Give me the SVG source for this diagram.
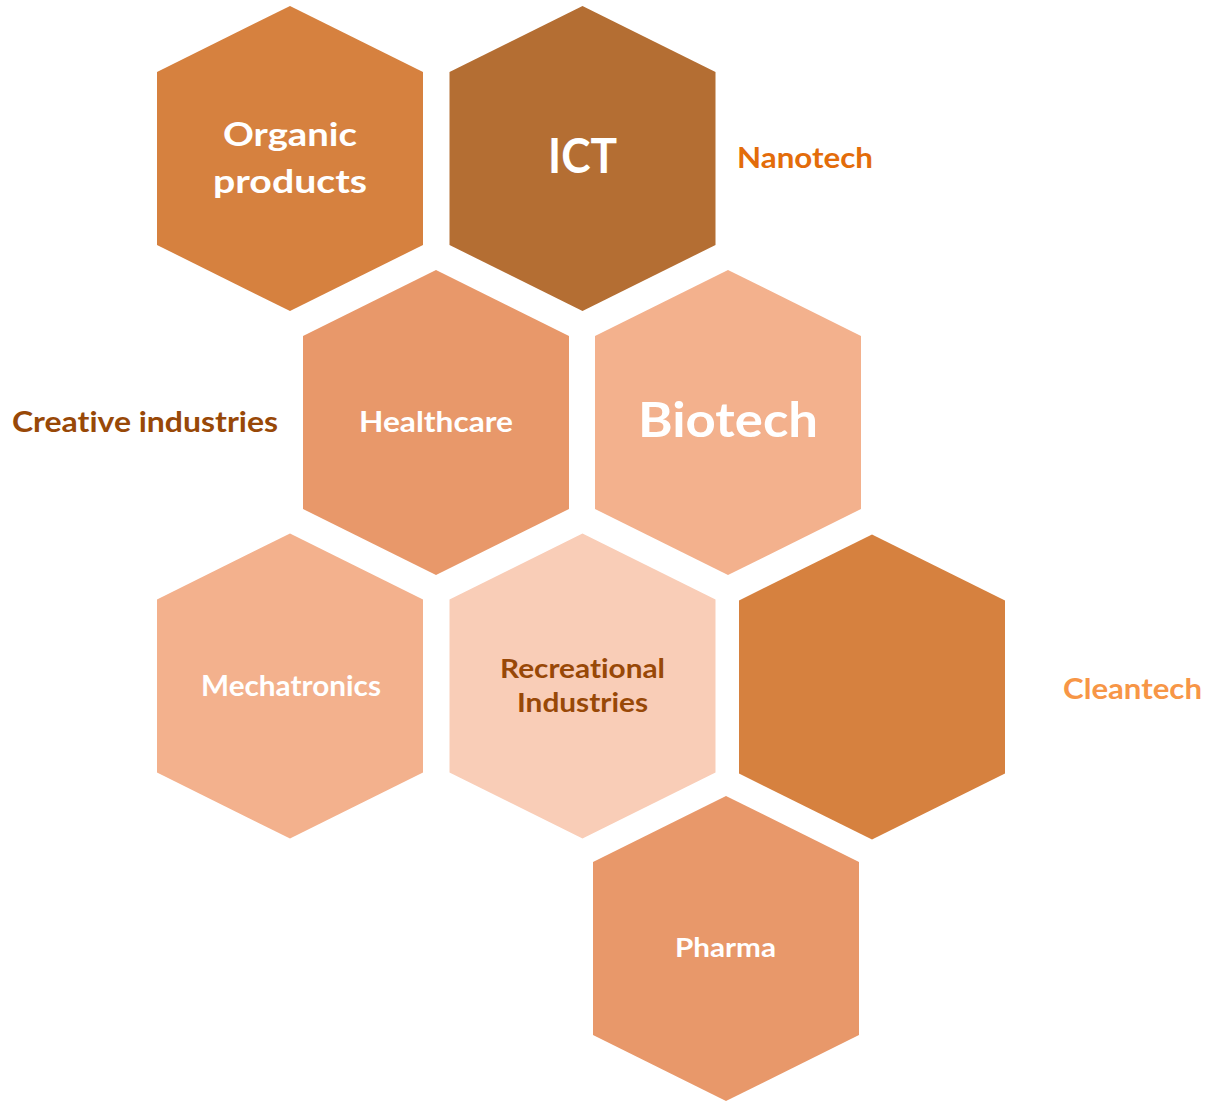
<svg xmlns="http://www.w3.org/2000/svg" width="1209" height="1101" viewBox="0 0 1209 1101">
<defs>
<polygon id="hex" points="0,-152.5 133,-86.5 133,86.5 0,152.5 -133,86.5 -133,-86.5"/>
</defs>
<style>
text{font-family:Lato,"Liberation Sans",sans-serif;font-weight:bold;text-anchor:middle;font-variant-ligatures:none}
.w{fill:#FFFFFF}
.br{fill:#984807}
</style>
<rect width="1209" height="1101" fill="#FFFFFF"/>
<g id="connectors"/>
<g id="organic"><use href="#hex" x="290" y="158.5" fill="#D6813F"/>
<text class="w" x="290" y="146" font-size="33" textLength="134" lengthAdjust="spacingAndGlyphs">Organic</text>
<text class="w" x="290" y="193" font-size="33" textLength="154" lengthAdjust="spacingAndGlyphs">products</text></g>
<g id="ict"><use href="#hex" x="582.5" y="158.5" fill="#B46E33"/>
<text class="w" x="582.5" y="173" font-size="47" textLength="69" lengthAdjust="spacingAndGlyphs">ICT</text></g>
<g id="nanotech"><text x="805" y="168" font-size="28" fill="#E36C0A" textLength="136" lengthAdjust="spacingAndGlyphs">Nanotech</text></g>
<g id="creative"><text class="br" x="145" y="432" font-size="29" textLength="266" lengthAdjust="spacingAndGlyphs">Creative industries</text></g>
<g id="healthcare"><use href="#hex" x="436" y="422.5" fill="#E8986A"/>
<text class="w" x="436" y="432" font-size="29" textLength="154" lengthAdjust="spacingAndGlyphs">Healthcare</text></g>
<g id="biotech"><use href="#hex" x="728" y="422.5" fill="#F3B18D"/>
<text class="w" x="728" y="437" font-size="48" textLength="180" lengthAdjust="spacingAndGlyphs">Biotech</text></g>
<g id="mechatronics"><use href="#hex" x="290" y="686" fill="#F3B18D"/>
<text class="w" x="291" y="696" font-size="28" textLength="180" lengthAdjust="spacingAndGlyphs">Mechatronics</text></g>
<g id="recreational"><use href="#hex" x="582.5" y="686" fill="#F9CDB7"/>
<text class="br" x="582.5" y="678" font-size="27" textLength="165" lengthAdjust="spacingAndGlyphs">Recreational</text>
<text class="br" x="582.5" y="712" font-size="27" textLength="131" lengthAdjust="spacingAndGlyphs">Industries</text></g>
<g id="cleantech-hex"><use href="#hex" x="872" y="687" fill="#D6813F"/></g>
<g id="cleantech"><text x="1132.5" y="699" font-size="29" fill="#F79646" textLength="139" lengthAdjust="spacingAndGlyphs">Cleantech</text></g>
<g id="pharma"><use href="#hex" x="726" y="948.5" fill="#E8986A"/>
<text class="w" x="725.5" y="957" font-size="27" textLength="101" lengthAdjust="spacingAndGlyphs">Pharma</text></g>
</svg>
